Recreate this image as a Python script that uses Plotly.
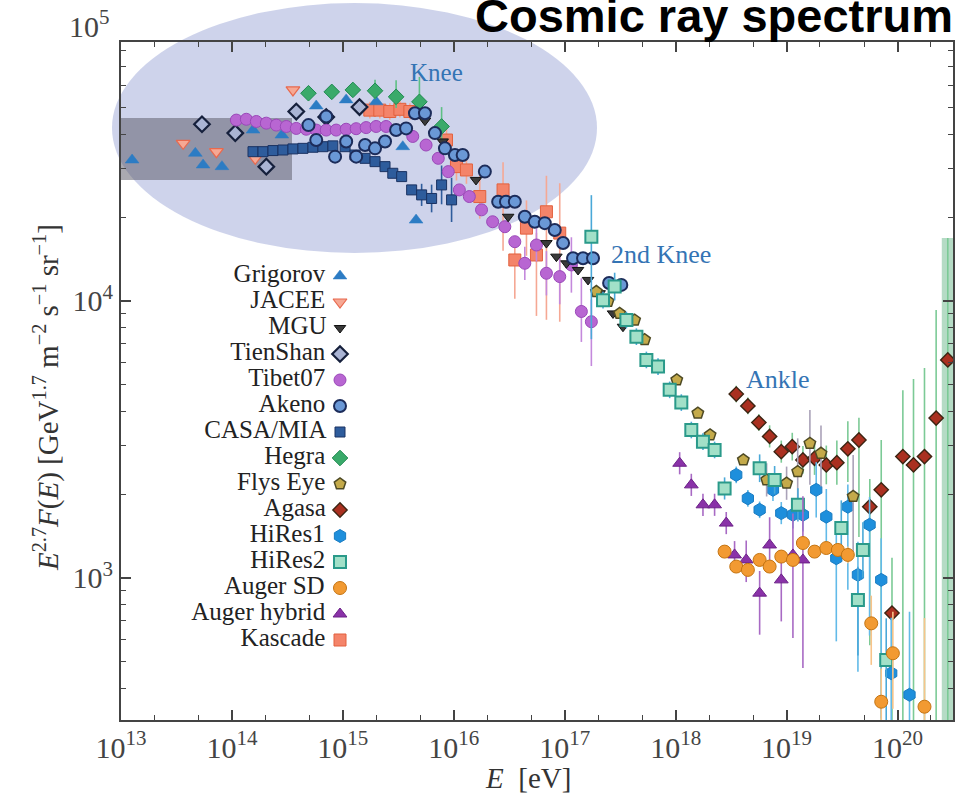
import plotly.graph_objects as go

# ---------------- data (log10 E [eV], log10 of E^2.7 F(E)) ----------------
grigorov_logE = [13.10, 13.67, 13.74, 13.91, 14.19, 14.45, 14.76, 15.03, 15.30, 15.54, 15.66]
grigorov_logF = [4.509, 4.533, 4.491, 4.485, 4.617, 4.599, 4.704, 4.726, 4.719, 4.557, 4.292]

jacee_logE = [13.56, 13.86, 14.21, 14.55]
jacee_logF = [4.569, 4.539, 4.515, 4.762]

mgu_logE = [15.74, 15.90, 16.20, 16.49, 16.835, 16.925, 17.015, 17.12, 17.21, 17.315, 17.435, 17.525]
mgu_logF = [4.651, 4.576, 4.437, 4.304, 4.209, 4.160, 4.136, 4.112, 4.076, 4.028, 3.955, 3.907]

tienshan_logE = [13.73, 14.03, 14.31, 14.58, 14.85, 15.15]
tienshan_logF = [4.638, 4.606, 4.485, 4.684, 4.664, 4.700]

tibet_logE = [14.04, 14.13, 14.22, 14.31, 14.40, 14.49, 14.58, 14.67, 14.76, 14.85, 14.94,
              15.03, 15.12, 15.21, 15.30, 15.39, 15.63, 15.75, 15.86, 15.95, 16.05, 16.14,
              16.25, 16.35, 16.46, 16.55, 16.64, 16.745, 16.835, 16.955, 17.06, 17.15, 17.24]
tibet_logF = [4.653, 4.656, 4.648, 4.642, 4.635, 4.630, 4.623, 4.620, 4.617, 4.617, 4.617,
              4.620, 4.622, 4.626, 4.630, 4.630, 4.594, 4.563, 4.515, 4.467, 4.401, 4.377,
              4.329, 4.286, 4.268, 4.214, 4.136, 4.202, 4.100, 4.088, 4.130, 3.962, 3.925]
tibet_up = [0]*26 + [0.06, 0.06, 0.08, 0.08, 0.10, 0.12, 0.08]
tibet_dn = [0]*26 + [0.06, 0.06, 0.08, 0.10, 0.10, 0.11, 0.16]

akeno_logE = [14.69, 14.76, 14.85, 14.93, 15.03, 15.12, 15.20, 15.29, 15.38, 15.48, 15.57,
              15.65, 15.74, 15.83, 15.92, 16.01, 16.08, 16.28, 16.40, 16.47, 16.55, 16.64,
              16.73, 16.82, 16.91, 16.985, 17.075, 17.165, 17.255, 17.40, 17.51]
akeno_logF = [4.635, 4.581, 4.666, 4.521, 4.576, 4.521, 4.563, 4.551, 4.576, 4.617, 4.623,
              4.678, 4.678, 4.606, 4.551, 4.527, 4.527, 4.467, 4.358, 4.358, 4.358, 4.304,
              4.286, 4.281, 4.256, 4.209, 4.154, 4.154, 4.154, 4.065, 4.058]

casa_logE = [14.19, 14.28, 14.37, 14.46, 14.55, 14.64, 14.73, 14.82, 14.91, 15.02, 15.11,
             15.20, 15.29, 15.38, 15.45, 15.53, 15.62, 15.71, 15.80, 15.89, 15.98]
casa_logF = [4.539, 4.539, 4.543, 4.545, 4.549, 4.551, 4.555, 4.557, 4.560, 4.557, 4.527,
             4.515, 4.503, 4.485, 4.461, 4.449, 4.401, 4.383, 4.370, 4.419, 4.365]
casa_up = [0]*17 + [0.04, 0.05, 0.07, 0.08]
casa_dn = [0]*17 + [0.04, 0.05, 0.07, 0.08]

hegra_logE = [14.69, 14.90, 15.09, 15.29, 15.48, 15.69, 15.89]
hegra_logF = [4.750, 4.755, 4.762, 4.759, 4.737, 4.719, 4.630]
hegra_up = [0, 0, 0, 0.04, 0.06, 0.09, 0.07]
hegra_dn = [0, 0, 0, 0.03, 0.04, 0.05, 0.05]

flys_logE = [17.285, 17.39, 17.495, 17.63, 17.72, 18.01, 18.20, 18.31, 18.61, 18.82, 19.00,
             19.10, 19.21, 19.31, 19.60]
flys_logF = [4.034, 3.998, 3.955, 3.931, 3.860, 3.715, 3.595, 3.516, 3.426, 3.354, 3.342,
             3.384, 3.486, 3.450, 3.294]
flys_up = [0]*9 + [0.06, 0.06, 0.12, 0.12, 0.10, 0.15]
flys_dn = [0]*9 + [0.06, 0.06, 0.12, 0.15, 0.12, 0.20]

agasa_logE = [18.546, 18.651, 18.75, 18.847, 18.952, 19.051, 19.147, 19.252, 19.358, 19.453,
              19.552, 19.652, 19.75, 19.853, 19.95, 20.048, 20.144, 20.243, 20.348, 20.453]
agasa_logF = [3.664, 3.621, 3.561, 3.511, 3.456, 3.474, 3.426, 3.432, 3.408, 3.416,
              3.466, 3.498, 3.257, 3.318, 2.873, 3.438, 3.408, 3.438, 3.577, 3.787]
agasa_up = [0.03, 0.03, 0.03, 0.04, 0.04, 0.05, 0.05, 0.06, 0.07, 0.08,
            0.10, 0.08, 0.10, 0.18, 0.20, 0.24, 0.31, 0.32, 0.39, 0.44]
agasa_dn = [0.03, 0.03, 0.03, 0.04, 0.04, 0.05, 0.05, 0.06, 0.07, 0.08,
            0.12, 0.35, 0.50, 1.00, 0.60, 1.20, 1.20, 1.20, 1.30, 1.50]

hires1_logE = [18.546, 18.651, 18.757, 18.877, 18.952, 19.057, 19.147, 19.267, 19.358, 19.448,
               19.552, 19.643, 19.748, 19.853, 19.943, 20.108]
hires1_logF = [3.372, 3.287, 3.246, 3.318, 3.234, 3.228, 3.228, 3.318, 3.221, 3.071,
               3.257, 3.011, 3.192, 2.993, 2.656, 2.578]
hires1_up = [0.03, 0.03, 0.03, 0.04, 0.04, 0.05, 0.06, 0.10, 0.10, 0.12, 0.08, 0.12, 0.10, 0.15, 0.20, 0.30]
hires1_dn = [0.03, 0.03, 0.03, 0.04, 0.04, 0.05, 0.06, 0.10, 0.10, 0.30, 0.30, 0.35, 0.40, 0.50, 0.80, 1.00]

hires2_logE = [17.24, 17.345, 17.45, 17.556, 17.646, 17.736, 17.841, 17.946, 18.051, 18.141,
               18.246, 18.351, 18.441, 18.757, 18.892, 19.102, 19.493, 19.643, 19.688, 19.898]
hires2_logF = [4.232, 4.003, 4.052, 3.931, 3.871, 3.787, 3.763, 3.679, 3.633, 3.534,
               3.492, 3.462, 3.323, 3.396, 3.354, 3.264, 3.180, 2.920, 3.101, 2.704]
hires2_up = [0.15, 0.03, 0.05, 0.03, 0.03, 0.03, 0.03, 0.03, 0.03, 0.03,
             0.03, 0.03, 0.04, 0.05, 0.05, 0.06, 0.10, 0.12, 0.10, 0.15]
hires2_dn = [0.37, 0.03, 0.05, 0.03, 0.03, 0.03, 0.03, 0.03, 0.03, 0.03,
             0.03, 0.03, 0.04, 0.05, 0.05, 0.06, 0.10, 0.20, 0.10, 0.35]

augersd_logE = [18.441, 18.546, 18.651, 18.757, 18.847, 18.952, 19.057, 19.147, 19.252, 19.358,
                19.462, 19.552, 19.763, 19.853, 19.958, 20.243]
augersd_logF = [3.095, 3.041, 3.029, 3.065, 3.041, 3.077, 3.065, 3.126, 3.095, 3.108,
                3.101, 3.083, 2.836, 2.553, 2.728, 2.535]
augersd_up = [0.02]*11 + [0.03, 0.10, 0.12, 0.15, 0.32]
augersd_dn = [0.02]*11 + [0.03, 0.15, 0.30, 0.20, 0.50]

augerhy_logE = [18.036, 18.141, 18.246, 18.351, 18.456, 18.531, 18.636, 18.757, 18.847, 18.952,
                19.057, 19.147]
augerhy_logF = [3.414, 3.336, 3.264, 3.264, 3.198, 3.083, 3.065, 2.945, 3.119, 2.993,
                3.083, 3.065]
augerhy_up = [0.04, 0.04, 0.04, 0.04, 0.04, 0.05, 0.07, 0.08, 0.10, 0.10, 0.15, 0.23]
augerhy_dn = [0.04, 0.04, 0.04, 0.04, 0.04, 0.05, 0.08, 0.15, 0.10, 0.15, 0.30, 0.39]

kascade_logE = [15.243, 15.333, 15.423, 15.514, 15.604, 15.934, 16.024, 16.114, 16.234, 16.444,
                16.55, 16.655, 16.745, 16.835, 16.955]
kascade_logF = [4.689, 4.689, 4.684, 4.692, 4.684, 4.581, 4.485, 4.473, 4.377, 4.401,
                4.148, 4.263, 4.166, 4.322, 4.245]
kascade_up = [0.03, 0.03, 0.03, 0.03, 0.03, 0.04, 0.05, 0.05, 0.08, 0.10, 0.08, 0.10, 0.08, 0.13, 0.18]
kascade_dn = [0.03, 0.03, 0.03, 0.03, 0.03, 0.04, 0.05, 0.05, 0.08, 0.22, 0.14, 0.10, 0.22, 0.39, 0.32]

legend_names = ["Grigorov", "JACEE", "MGU", "TienShan", "Tibet07", "Akeno", "CASA/MIA", "Hegra",
                "Flys Eye", "Agasa", "HiRes1", "HiRes2", "Auger SD", "Auger hybrid", "Kascade"]

x_tick_exp = [13, 14, 15, 16, 17, 18, 19, 20]
y_tick_exp = [3, 4]
y_top_label_exp = 5

# ---------------- styles ----------------
styles = {
    "Grigorov":     dict(symbol="triangle-up",   color="#2c7cc4", line="#2c7cc4", lw=0.5, size=12, ecol="#2c7cc4"),
    "JACEE":        dict(symbol="triangle-down", color="#f6a894", line="#e8694e", lw=1.2, size=12, ecol="#f6a894"),
    "MGU":          dict(symbol="triangle-down", color="#3a3a3a", line="#111111", lw=1.0, size=10, ecol="#555555"),
    "TienShan":     dict(symbol="diamond",       color="#aab4d4", line="#16203c", lw=2.2, size=12, ecol="#16203c"),
    "Tibet07":      dict(symbol="circle",        color="#b866d2", line="#9a48b8", lw=1.0, size=12, ecol="#c489dc"),
    "Akeno":        dict(symbol="circle",        color="#6a98d6", line="#1c2c5a", lw=2.0, size=12, ecol="#3a5a9a"),
    "CASA/MIA":     dict(symbol="square",        color="#2e5c9c", line="#1a3262", lw=1.0, size=10, ecol="#2e5c9c"),
    "Hegra":        dict(symbol="diamond",       color="#3aaa6a", line="#1f8a50", lw=1.0, size=12, ecol="#5ec084"),
    "Flys Eye":     dict(symbol="pentagon",      color="#c4aa4a", line="#4e4a24", lw=1.5, size=12, ecol="#aaa2b8"),
    "Agasa":        dict(symbol="diamond",       color="#aa3020", line="#3c2412", lw=1.4, size=11, ecol="#7cca96"),
    "HiRes1":       dict(symbol="hexagon",       color="#1e8fdc", line="#1a7cc2", lw=1.0, size=13, ecol="#62bae8"),
    "HiRes2":       dict(symbol="square",        color="#a2e0c8", line="#2a9a8a", lw=2.0, size=12, ecol="#4aa8d8"),
    "Auger SD":     dict(symbol="circle",        color="#f29a32", line="#c47412", lw=1.0, size=13, ecol="#f8c48a"),
    "Auger hybrid": dict(symbol="triangle-up",   color="#8a32a8", line="#6c2288", lw=1.0, size=12, ecol="#a86ac4"),
    "Kascade":      dict(symbol="square",        color="#f4846a", line="#e2613e", lw=1.0, size=12, ecol="#f5a894"),
}

series = [
    ("Agasa", agasa_logE, agasa_logF, agasa_up, agasa_dn),
    ("HiRes1", hires1_logE, hires1_logF, hires1_up, hires1_dn),
    ("Kascade", kascade_logE, kascade_logF, kascade_up, kascade_dn),
    ("Grigorov", grigorov_logE, grigorov_logF, None, None),
    ("JACEE", jacee_logE, jacee_logF, None, None),
    ("Hegra", hegra_logE, hegra_logF, hegra_up, hegra_dn),
    ("CASA/MIA", casa_logE, casa_logF, casa_up, casa_dn),
    ("TienShan", tienshan_logE, tienshan_logF, None, None),
    ("Tibet07", tibet_logE, tibet_logF, tibet_up, tibet_dn),
    ("MGU", mgu_logE, mgu_logF, None, None),
    ("Akeno", akeno_logE, akeno_logF, None, None),
    ("Flys Eye", flys_logE, flys_logF, flys_up, flys_dn),
    ("HiRes2", hires2_logE, hires2_logF, hires2_up, hires2_dn),
    ("Auger hybrid", augerhy_logE, augerhy_logF, augerhy_up, augerhy_dn),
    ("Auger SD", augersd_logE, augersd_logF, augersd_up, augersd_dn),
]

W, H = 968, 794
ML, MR, MT, MB = 121, 15, 42, 74
PW, PH = W - ML - MR, H - MT - MB
Y_RANGE = [2.487, 4.935]
SERIF = "Liberation Serif, Times New Roman, serif"


def px_x(p):
    return (p - ML) / PW


def px_y(p):
    return 1 - (p - MT) / PH


fig = go.Figure()

# wide error band of the last Agasa point
yl = 10.0 ** agasa_logF[-1]
fig.add_trace(go.Scatter(
    x=[10.0 ** agasa_logE[-1]], y=[yl], mode="markers",
    marker=dict(size=1, color="rgba(0,0,0,0)"),
    error_y=dict(type="data", symmetric=False, array=[yl * (10.0 ** agasa_up[-1] - 1)],
                 arrayminus=[yl * (1 - 10.0 ** (-agasa_dn[-1]))],
                 color="rgba(120,190,150,0.55)", thickness=12, width=0),
    showlegend=False, hoverinfo="skip"))

for name, le, lf, up, dn in series:
    st = styles[name]
    x = [10.0 ** v for v in le]
    y = [10.0 ** v for v in lf]
    kw = {}
    if up is not None:
        kw["error_y"] = dict(type="data", symmetric=False,
                             array=[yy * (10.0 ** u - 1) for yy, u in zip(y, up)],
                             arrayminus=[yy * (1 - 10.0 ** (-d)) for yy, d in zip(y, dn)],
                             color=st["ecol"], thickness=1.6, width=0)
    fig.add_trace(go.Scatter(
        x=x, y=y, mode="markers", name=name, showlegend=False,
        marker=dict(symbol=st["symbol"], color=st["color"], size=st["size"],
                    line=dict(color=st["line"], width=st["lw"])),
        **kw))

# legend (text to the left of the symbol) on an auxiliary axis pair
legend_row_px = 26.0
legend_first_px = 276
ytop = -(legend_first_px - MT) / legend_row_px
ybot = ytop + PH / legend_row_px
legend_x = px_x(340)
for i, name in enumerate(legend_names):
    st = styles[name]
    fig.add_trace(go.Scatter(
        x=[legend_x], y=[i], xaxis="x2", yaxis="y2", mode="markers+text",
        text=[name + "\u00a0"], textposition="middle left",
        textfont=dict(family=SERIF, size=25, color="#222222"),
        marker=dict(symbol=st["symbol"], color=st["color"], size=st["size"],
                    line=dict(color=st["line"], width=st["lw"])),
        showlegend=False, hoverinfo="skip"))

axis_common = dict(type="log", ticks="inside", ticklen=10, tickwidth=1.5, tickcolor="#444",
                   showline=True, linecolor="#444", linewidth=2, mirror="ticks",
                   showgrid=False, zeroline=False,
                   tickfont=dict(family=SERIF, size=30, color="#444"))

fig.update_layout(
    width=W, height=H,
    margin=dict(l=ML, r=MR, t=MT, b=MB),
    paper_bgcolor="white", plot_bgcolor="rgba(0,0,0,0)",
    showlegend=False,
    xaxis=dict(range=[13, 20.5],
               tickvals=[10.0 ** e for e in x_tick_exp],
               ticktext=["10<sup>%d</sup>" % e for e in x_tick_exp],
               minor=dict(ticks="inside", ticklen=5, tickwidth=1.2, tickcolor="#444", dtick="D2", showgrid=False),
               **axis_common),
    yaxis=dict(range=Y_RANGE,
               tickvals=[10.0 ** e for e in y_tick_exp],
               ticktext=["10<sup>%d</sup>" % e for e in y_tick_exp],
               minor=dict(ticks="inside", ticklen=5, tickwidth=1.2, tickcolor="#444", dtick="D1", showgrid=False),
               **axis_common),
    xaxis2=dict(overlaying="x", anchor="y2", range=[0, 1], visible=False),
    yaxis2=dict(overlaying="y", anchor="x2", range=[ybot, ytop], visible=False),
    shapes=[
        dict(type="circle", xref="x domain", yref="y domain",
             x0=px_x(112), x1=px_x(597), y0=px_y(253), y1=px_y(3),
             fillcolor="rgba(120,132,200,0.36)", line=dict(width=0), layer="below"),
        dict(type="rect", xref="x domain", yref="y domain",
             x0=0, x1=px_x(292), y0=px_y(180), y1=px_y(118),
             fillcolor="rgba(85,85,100,0.5)", line=dict(width=0), layer="below"),
    ],
    annotations=[
        dict(text="Knee", xref="x", yref="y", x=15.847, y=4.826, showarrow=False,
             font=dict(family=SERIF, size=25, color="#3474b4")),
        dict(text="2nd Knee", xref="x", yref="y", x=17.865, y=4.166, showarrow=False,
             font=dict(family=SERIF, size=26, color="#3474b4")),
        dict(text="Ankle", xref="x", yref="y", x=18.919, y=3.715, showarrow=False,
             font=dict(family=SERIF, size=26, color="#3474b4")),
        # 10^5 tick label sits above the clipped frame
        dict(text="10<sup>%d</sup>" % y_top_label_exp, xref="paper", yref="paper",
             x=px_x(112), y=px_y(24), xanchor="right", yanchor="middle", showarrow=False,
             font=dict(family=SERIF, size=30, color="#444")),
        dict(text="<b>Cosmic ray spectrum</b>", xref="paper", yref="paper",
             x=px_x(955), y=px_y(15), xanchor="right", yanchor="middle",
             showarrow=False, font=dict(family="Liberation Sans, Arial, sans-serif", size=47, color="black")),
        dict(text="<i>E</i><sup>2.7</sup><i>F</i>(<i>E</i>) [GeV<sup>1.7</sup> m<sup>−2</sup> s<sup>−1</sup> sr<sup>−1</sup>]",
             xref="paper", yref="paper", x=px_x(46), y=px_y(398),
             textangle=-90, showarrow=False, xanchor="center", yanchor="middle",
             font=dict(family=SERIF, size=29, color="#333")),
        dict(text="<i>E</i>  [eV]", xref="paper", yref="paper",
             x=px_x(528), y=px_y(778), showarrow=False,
             xanchor="center", yanchor="middle",
             font=dict(family=SERIF, size=29, color="#333")),
    ],
)

fig.write_html("out.html")
